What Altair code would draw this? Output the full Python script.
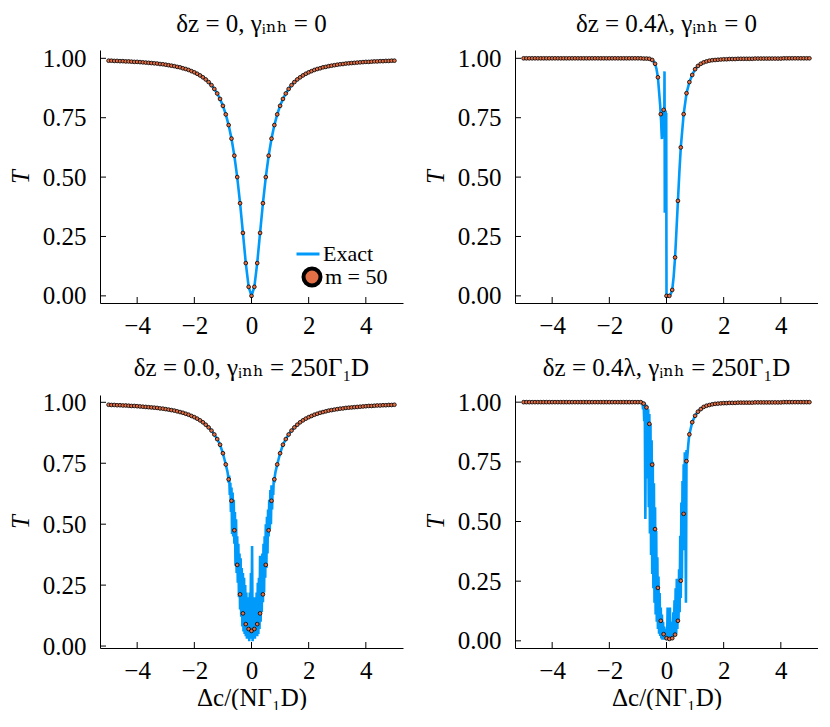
import altair as alt
import pandas as pd

# detuning grid of the m = 50 markers
X = [-5.0, -4.9, -4.8, -4.7, -4.6, -4.5, -4.4, -4.3, -4.2, -4.1,
     -4.0, -3.9, -3.8, -3.7, -3.6, -3.5, -3.4, -3.3, -3.2, -3.1,
     -3.0, -2.9, -2.8, -2.7, -2.6, -2.5, -2.4, -2.3, -2.2, -2.1,
     -2.0, -1.9, -1.8, -1.7, -1.6, -1.5, -1.4, -1.3, -1.2, -1.1,
     -1.0, -0.9, -0.8, -0.7, -0.6, -0.5, -0.4, -0.3, -0.2, -0.1,
     0.0,
     0.1, 0.2, 0.3, 0.4, 0.5, 0.6, 0.7, 0.8, 0.9, 1.0,
     1.1, 1.2, 1.3, 1.4, 1.5, 1.6, 1.7, 1.8, 1.9, 2.0,
     2.1, 2.2, 2.3, 2.4, 2.5, 2.6, 2.7, 2.8, 2.9, 3.0,
     3.1, 3.2, 3.3, 3.4, 3.5, 3.6, 3.7, 3.8, 3.9, 4.0,
     4.1, 4.2, 4.3, 4.4, 4.5, 4.6, 4.7, 4.8, 4.9, 5.0]

# panel 1: dz = 0, gamma_inh = 0
P1_T = [0.990, 0.990, 0.989, 0.989, 0.988, 0.988, 0.987, 0.987, 0.986, 0.985,
        0.985, 0.984, 0.983, 0.982, 0.981, 0.980, 0.979, 0.978, 0.976, 0.975,
        0.973, 0.971, 0.969, 0.967, 0.964, 0.962, 0.958, 0.955, 0.951, 0.946,
        0.941, 0.935, 0.928, 0.920, 0.911, 0.900, 0.887, 0.871, 0.852, 0.829,
        0.800, 0.764, 0.719, 0.662, 0.590, 0.500, 0.390, 0.265, 0.138, 0.038,
        0.000,
        0.038, 0.138, 0.265, 0.390, 0.500, 0.590, 0.662, 0.719, 0.764, 0.800,
        0.829, 0.852, 0.871, 0.887, 0.900, 0.911, 0.920, 0.928, 0.935, 0.941,
        0.946, 0.951, 0.955, 0.958, 0.962, 0.964, 0.967, 0.969, 0.971, 0.973,
        0.975, 0.976, 0.978, 0.979, 0.980, 0.981, 0.982, 0.983, 0.984, 0.985,
        0.985, 0.986, 0.987, 0.987, 0.988, 0.988, 0.989, 0.989, 0.990, 0.990]

# panel 2: dz = 0.4 lambda, gamma_inh = 0
P2_T = [1.000, 1.000, 1.000, 1.000, 1.000, 1.000, 1.000, 1.000, 1.000, 1.000,
        1.000, 1.000, 1.000, 1.000, 1.000, 1.000, 1.000, 1.000, 1.000, 1.000,
        1.000, 1.000, 1.000, 1.000, 1.000, 1.000, 1.000, 1.000, 1.000, 1.000,
        1.000, 1.000, 1.000, 1.000, 1.000, 1.000, 1.000, 1.000, 1.000, 1.000,
        1.000, 1.000, 0.999, 0.999, 0.998, 0.993, 0.977, 0.920, 0.765, 0.783,
        0.000,
        0.000, 0.025, 0.162, 0.400, 0.625, 0.765, 0.853, 0.900, 0.930, 0.954,
        0.968, 0.977, 0.983, 0.987, 0.990, 0.992, 0.993, 0.994, 0.995, 0.996,
        0.996, 0.997, 0.997, 0.997, 0.998, 0.998, 0.998, 0.998, 0.998, 0.998,
        0.999, 0.999, 0.999, 0.999, 0.999, 0.999, 0.999, 0.999, 0.999, 0.999,
        1.000, 1.000, 1.000, 1.000, 1.000, 1.000, 1.000, 1.000, 1.000, 1.000]

# panel 3: dz = 0.0, gamma_inh = 250 G1D
P3_T = [0.990, 0.989, 0.989, 0.988, 0.988, 0.987, 0.987, 0.986, 0.985, 0.985,
        0.984, 0.983, 0.982, 0.981, 0.980, 0.979, 0.978, 0.977, 0.975, 0.974,
        0.972, 0.970, 0.968, 0.966, 0.963, 0.960, 0.957, 0.953, 0.949, 0.944,
        0.939, 0.933, 0.926, 0.918, 0.908, 0.897, 0.884, 0.868, 0.849, 0.826,
        0.791, 0.745, 0.684, 0.596, 0.475, 0.333, 0.212, 0.134, 0.090, 0.070,
        0.062,
        0.070, 0.090, 0.134, 0.212, 0.333, 0.475, 0.596, 0.684, 0.745, 0.791,
        0.826, 0.849, 0.868, 0.884, 0.897, 0.908, 0.918, 0.926, 0.933, 0.939,
        0.944, 0.949, 0.953, 0.957, 0.960, 0.963, 0.966, 0.968, 0.970, 0.972,
        0.974, 0.975, 0.977, 0.978, 0.979, 0.980, 0.981, 0.982, 0.983, 0.984,
        0.985, 0.985, 0.986, 0.987, 0.987, 0.988, 0.988, 0.989, 0.989, 0.990]

# panel 4: dz = 0.4 lambda, gamma_inh = 250 G1D
P4_T = [1.000, 1.000, 1.000, 1.000, 1.000, 1.000, 1.000, 1.000, 1.000, 1.000,
        1.000, 1.000, 1.000, 1.000, 1.000, 1.000, 1.000, 1.000, 1.000, 1.000,
        1.000, 1.000, 1.000, 1.000, 1.000, 1.000, 1.000, 1.000, 1.000, 1.000,
        1.000, 1.000, 1.000, 1.000, 1.000, 1.000, 1.000, 1.000, 1.000, 1.000,
        1.000, 1.000, 0.994, 0.978, 0.909, 0.738, 0.468, 0.222, 0.084, 0.028,
        0.011,
        0.008, 0.011, 0.026, 0.084, 0.252, 0.532, 0.753, 0.865, 0.916, 0.943,
        0.960, 0.971, 0.980, 0.985, 0.988, 0.991, 0.993, 0.994, 0.995, 0.996,
        0.996, 0.997, 0.997, 0.997, 0.998, 0.998, 0.998, 0.998, 0.998, 0.998,
        0.999, 0.999, 0.999, 0.999, 0.999, 0.999, 0.999, 0.999, 0.999, 0.999,
        1.000, 1.000, 1.000, 1.000, 1.000, 1.000, 1.000, 1.000, 1.000, 1.000]

# exact curves near the dips
L2_X = [-0.55, -0.50, -0.45, -0.40, -0.35, -0.30, -0.26, -0.22, -0.19, -0.17,
        -0.16, -0.15, -0.14, -0.13, -0.12, -0.11, -0.10, -0.09, -0.08, -0.07,
        -0.065, -0.06, -0.05, -0.04, -0.03, -0.02, -0.01, 0.00, 0.05, 0.10,
        0.15, 0.20, 0.25, 0.30, 0.35, 0.40, 0.45, 0.50]
L2_T = [0.996, 0.993, 0.987, 0.977, 0.955, 0.920, 0.860, 0.800, 0.740, 0.680,
        0.660, 0.740, 0.670, 0.770, 0.680, 0.780, 0.700, 0.780, 0.670, 0.945,
        0.720, 0.350, 0.760, 0.420, 0.780, 0.600, 0.770, 0.000, 0.000, 0.000,
        0.008, 0.025, 0.080, 0.162, 0.280, 0.400, 0.520, 0.625]

L3_X = [-0.86, -0.84, -0.82, -0.80, -0.78, -0.76, -0.74, -0.72, -0.70, -0.68,
        -0.66, -0.64, -0.62, -0.60, -0.58, -0.56, -0.54, -0.52, -0.50, -0.48,
        -0.46, -0.44, -0.42, -0.40, -0.38, -0.36, -0.34, -0.32, -0.30, -0.28,
        -0.26, -0.24, -0.22, -0.20, -0.18, -0.16, -0.14, -0.12, -0.10, -0.08,
        -0.06, -0.04, -0.02, 0.00, 0.02, 0.04, 0.06, 0.08, 0.10, 0.12,
        0.14, 0.16, 0.18, 0.20, 0.22, 0.24, 0.26, 0.28, 0.30, 0.32,
        0.34, 0.36, 0.38, 0.40, 0.42, 0.44, 0.46, 0.48, 0.50, 0.52,
        0.54, 0.56, 0.58, 0.60, 0.62, 0.64, 0.66, 0.68, 0.70, 0.72,
        0.74, 0.76, 0.78, 0.80, 0.82, 0.84, 0.86]
L3_T = [0.725, 0.715, 0.700, 0.670, 0.700, 0.620, 0.670, 0.550, 0.650, 0.460,
        0.630, 0.450, 0.600, 0.420, 0.550, 0.330, 0.520, 0.300, 0.450, 0.260,
        0.420, 0.200, 0.380, 0.150, 0.360, 0.120, 0.320, 0.080, 0.300, 0.060,
        0.280, 0.050, 0.250, 0.040, 0.220, 0.030, 0.200, 0.030, 0.180, 0.020,
        0.220, 0.030, 0.300, 0.030, 0.410, 0.020, 0.200, 0.030, 0.180, 0.030,
        0.200, 0.040, 0.220, 0.040, 0.260, 0.050, 0.280, 0.070, 0.370, 0.100,
        0.330, 0.140, 0.380, 0.180, 0.420, 0.220, 0.450, 0.280, 0.500, 0.320,
        0.530, 0.380, 0.560, 0.450, 0.600, 0.480, 0.640, 0.500, 0.660, 0.560,
        0.660, 0.620, 0.690, 0.670, 0.700, 0.715, 0.725]

L4_X = [-0.86, -0.84, -0.82, -0.80, -0.78, -0.76, -0.74, -0.72, -0.70, -0.68,
        -0.66, -0.64, -0.62, -0.60, -0.58, -0.56, -0.54, -0.52, -0.50, -0.48,
        -0.46, -0.44, -0.42, -0.40, -0.38, -0.36, -0.34, -0.32, -0.30, -0.28,
        -0.26, -0.24, -0.22, -0.20, -0.18, -0.16, -0.14, -0.12, -0.10, -0.08,
        -0.06, -0.04, -0.02, 0.00, 0.02, 0.04, 0.06, 0.08, 0.10, 0.12,
        0.14, 0.16, 0.18, 0.20, 0.22, 0.24, 0.26, 0.28, 0.30, 0.32,
        0.34, 0.36, 0.38, 0.40, 0.42, 0.44, 0.46, 0.48, 0.50, 0.52,
        0.54, 0.56, 0.58, 0.60, 0.62, 0.64, 0.66, 0.68, 0.70, 0.72,
        0.74, 0.76, 0.78]
L4_T = [0.999, 0.998, 0.970, 1.000, 0.920, 0.998, 0.510, 0.990, 0.800, 0.985,
        0.680, 0.970, 0.560, 0.950, 0.450, 0.910, 0.360, 0.840, 0.280, 0.750,
        0.220, 0.660, 0.160, 0.560, 0.110, 0.460, 0.080, 0.350, 0.050, 0.270,
        0.030, 0.200, 0.020, 0.140, 0.010, 0.110, 0.005, 0.080, 0.005, 0.060,
        0.005, 0.050, 0.005, 0.050, 0.003, 0.140, 0.005, 0.050, 0.004, 0.140,
        0.005, 0.060, 0.005, 0.080, 0.010, 0.120, 0.020, 0.170, 0.020, 0.220,
        0.030, 0.260, 0.050, 0.240, 0.080, 0.300, 0.120, 0.440, 0.180, 0.580,
        0.260, 0.670, 0.380, 0.740, 0.500, 0.790, 0.600, 0.160, 0.800, 0.760,
        0.790, 0.820, 0.845]

XTICKS = [-4, -2, 0, 2, 4]
YTICKS = [0.0, 0.25, 0.5, 0.75, 1.0]
TITLES = ["δz = 0, γᵢₙₕ = 0",
          "δz = 0.4λ, γᵢₙₕ = 0",
          "δz = 0.0, γᵢₙₕ = 250Γ₁D",
          "δz = 0.4λ, γᵢₙₕ = 250Γ₁D"]
YDOMAINS = [[-0.03, 1.035], [-0.03, 1.035], [-0.008, 1.03], [-0.03, 1.03]]
XDOMAIN = [-5.3, 5.3]
XLABEL = "Δc/(NΓ₁D)"
YLABEL = "T"
SERIES = ["Exact", "m = 50"]

BLUE = "#009AFA"
ORANGE = "#E26F46"
FONT = "Liberation Serif, DejaVu Serif, serif"
W, H = 303, 253


def line_table(pts_t, seg_x, seg_t):
    if seg_x is None:
        xs, ts = list(X), list(pts_t)
    else:
        lo, hi = min(seg_x), max(seg_x)
        left = [(x, t) for x, t in zip(X, pts_t) if x < lo - 1e-9]
        right = [(x, t) for x, t in zip(X, pts_t) if x > hi + 1e-9]
        pairs = left + list(zip(seg_x, seg_t)) + right
        xs = [p[0] for p in pairs]
        ts = [p[1] for p in pairs]
    return pd.DataFrame({"x": xs, "t": ts, "o": list(range(len(xs))), "sl": SERIES[0]})


def panel(i, pts_t, seg_x, seg_t, xtitle, legend):
    xs = alt.Scale(domain=XDOMAIN, nice=False, zero=False)
    ys = alt.Scale(domain=YDOMAINS[i], nice=False, zero=False)
    xaxis = alt.Axis(values=XTICKS, format="d", title=xtitle, labelFlush=False)
    yaxis = alt.Axis(values=YTICKS, format=".2f", title=YLABEL, titleFontStyle="italic",
                     labelFlush=False)
    ldf = line_table(pts_t, seg_x, seg_t)
    pdf = pd.DataFrame({"x": X, "t": pts_t, "sp": SERIES[1]})
    if legend:
        lcolor = alt.Color("sl:N", scale=alt.Scale(domain=[SERIES[0]], range=[BLUE]),
                           legend=alt.Legend(title=None, orient="none", legendX=195, legendY=191,
                                             symbolType="stroke", symbolSize=529,
                                             symbolStrokeWidth=3, labelOffset=2,
                                             labelFont=FONT, labelFontSize=22,
                                             labelColor="black", padding=0))
        pfill = alt.Fill("sp:N", scale=alt.Scale(domain=[SERIES[1]], range=[ORANGE]),
                         legend=alt.Legend(title=None, orient="none", legendX=201, legendY=216,
                                           symbolType="circle", symbolSize=289,
                                           symbolStrokeColor="black", symbolStrokeWidth=4,
                                           symbolOpacity=1, labelOffset=2,
                                           labelFont=FONT, labelFontSize=22,
                                           labelColor="black", padding=0))
    else:
        lcolor = alt.value(BLUE)
        pfill = alt.value(ORANGE)
    line = alt.Chart(ldf).mark_line(strokeWidth=2.6).encode(
        x=alt.X("x:Q", scale=xs, axis=xaxis),
        y=alt.Y("t:Q", scale=ys, axis=yaxis),
        color=lcolor,
        order="o:Q",
    )
    pts = alt.Chart(pdf).mark_circle(size=14, stroke="black", strokeWidth=0.8, opacity=1).encode(
        x=alt.X("x:Q", scale=xs, axis=xaxis),
        y=alt.Y("t:Q", scale=ys, axis=yaxis),
        fill=pfill,
    )
    xt = alt.Chart(pd.DataFrame({"x": XTICKS})).mark_rule(color="black", strokeWidth=1).encode(
        x=alt.X("x:Q", scale=xs, axis=xaxis), y=alt.value(H), y2=alt.value(H - 6))
    yt = alt.Chart(pd.DataFrame({"t": YTICKS})).mark_rule(color="black", strokeWidth=1).encode(
        y=alt.Y("t:Q", scale=ys, axis=yaxis), x=alt.value(0), x2=alt.value(6))
    return alt.layer(line, pts, xt, yt).properties(
        width=W, height=H,
        title=alt.TitleParams(text=TITLES[i], font=FONT, fontSize=25, fontWeight="normal",
                              color="black", offset=9, anchor="middle", frame="group"),
    )


p1 = panel(0, P1_T, None, None, None, True)
p2 = panel(1, P2_T, L2_X, L2_T, None, False)
p3 = panel(2, P3_T, L3_X, L3_T, XLABEL, False)
p4 = panel(3, P4_T, L4_X, L4_T, XLABEL, False)

chart = alt.concat(p1, p2, p3, p4, columns=2, spacing=alt.RowColnumber(row=92, column=112),
                   bounds="flush").properties(
    padding={"left": 0, "top": 4, "right": 0, "bottom": 0}
).configure_view(stroke=None).configure_axis(
    domainColor="black", domainWidth=1, ticks=False, grid=False,
    labelFont=FONT, labelFontSize=25, labelColor="black",
    titleFont=FONT, titleFontSize=25, titleFontWeight="normal", titleColor="black",
).configure_axisX(labelPadding=10, titlePadding=2).configure_axisY(
    labelPadding=14, titlePadding=9
)

chart.save("out.html", embed_options={"renderer": "svg", "actions": False})
